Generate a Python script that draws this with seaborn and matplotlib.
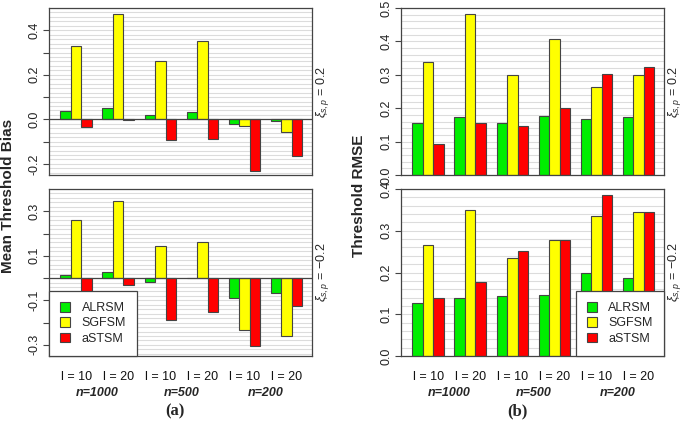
import numpy as np
import pandas as pd
import matplotlib
matplotlib.use("Agg")
import matplotlib.pyplot as plt
import seaborn as sns
from matplotlib.patches import Patch
from matplotlib import transforms

# Settings (x categories) and methods
settings = ["n1000_l10", "n1000_l20", "n500_l10", "n500_l20", "n200_l10", "n200_l20"]
tick_labels = ["l = 10", "l = 20", "l = 10", "l = 20", "l = 10", "l = 20"]
group_labels = ["n=1000", "n=500", "n=200"]
methods = ["ALRSM", "SGFSM", "aSTSM"]
colors = ["#00EE00", "#FFFF00", "#FF0000"]

# (a) Mean threshold bias
bias_pos_alrsm = [0.038, 0.050, 0.018, 0.032, -0.023, -0.009]
bias_pos_sgfsm = [0.330, 0.474, 0.262, 0.350, -0.032, -0.059]
bias_pos_astsm = [-0.033, -0.004, -0.095, -0.090, -0.233, -0.165]

bias_neg_alrsm = [0.013, 0.028, -0.016, 0.001, -0.088, -0.067]
bias_neg_sgfsm = [0.261, 0.346, 0.142, 0.164, -0.233, -0.260]
bias_neg_astsm = [-0.079, -0.030, -0.187, -0.152, -0.307, -0.125]

# (b) Threshold RMSE
rmse_pos_alrsm = [0.156, 0.175, 0.155, 0.178, 0.168, 0.175]
rmse_pos_sgfsm = [0.337, 0.482, 0.299, 0.407, 0.262, 0.299]
rmse_pos_astsm = [0.093, 0.155, 0.148, 0.200, 0.302, 0.323]

rmse_neg_alrsm = [0.126, 0.138, 0.143, 0.145, 0.198, 0.186]
rmse_neg_sgfsm = [0.267, 0.350, 0.234, 0.278, 0.336, 0.346]
rmse_neg_astsm = [0.138, 0.178, 0.252, 0.279, 0.385, 0.346]


def make_df(a, s, r):
    rows = []
    for vals, m in zip([a, s, r], methods):
        for st, v in zip(settings, vals):
            rows.append({"setting": st, "method": m, "value": v})
    return pd.DataFrame(rows)


sns.set_theme(style="white")
plt.rcParams["font.family"] = ["Liberation Sans", "DejaVu Sans"]
plt.rcParams["mathtext.fontset"] = "custom"
plt.rcParams["mathtext.rm"] = "Liberation Sans"
plt.rcParams["mathtext.it"] = "Liberation Sans:italic"

W, H = 685, 422
fig = plt.figure(figsize=(W / 100, H / 100), dpi=100)


def px_axes(x0, y0, x1, y1):
    return fig.add_axes([x0 / W, 1 - y1 / H, (x1 - x0) / W, (y1 - y0) / H])


ax_lt = px_axes(49, 8, 312, 175)
ax_lb = px_axes(49, 189, 312, 356)
ax_rt = px_axes(401, 8, 664, 175)
ax_rb = px_axes(401, 189, 664, 356)

panels = [
    (ax_lt, make_df(bias_pos_alrsm, bias_pos_sgfsm, bias_pos_astsm), (-0.25, 0.5),
     np.round(np.arange(-0.2, 0.41, 0.1), 2), [-0.2, 0.0, 0.2, 0.4], True, r"$\xi_{s,p}$ = 0.2"),
    (ax_lb, make_df(bias_neg_alrsm, bias_neg_sgfsm, bias_neg_astsm), (-0.35, 0.4),
     np.round(np.arange(-0.3, 0.31, 0.1), 2), [-0.3, -0.1, 0.1, 0.3], True, r"$\xi_{s,p}$ = $-$0.2"),
    (ax_rt, make_df(rmse_pos_alrsm, rmse_pos_sgfsm, rmse_pos_astsm), (0.0, 0.5),
     np.round(np.arange(0.0, 0.51, 0.1), 2), list(np.round(np.arange(0.0, 0.51, 0.1), 2)), False, r"$\xi_{s,p}$ = 0.2"),
    (ax_rb, make_df(rmse_neg_alrsm, rmse_neg_sgfsm, rmse_neg_astsm), (0.0, 0.4),
     np.round(np.arange(0.0, 0.41, 0.1), 2), list(np.round(np.arange(0.0, 0.41, 0.1), 2)), False, r"$\xi_{s,p}$ = $-$0.2"),
]

for ax, df, ylim, ticks, labeled, zero_line, side_lab in panels:
    sns.barplot(data=df, x="setting", y="value", hue="method", palette=colors,
                saturation=1, width=0.75, gap=0, edgecolor="#444444", linewidth=0.8,
                legend=False, ax=ax, zorder=2)
    ax.set_xlim(-0.645, 5.605)
    ax.set_ylim(*ylim)
    # fine horizontal grid
    grid_vals = np.arange(np.ceil(ylim[0] / 0.02) * 0.02, ylim[1] + 1e-9, 0.02)
    for g in grid_vals:
        ax.axhline(g, color="#dcdcdc", linewidth=0.8, zorder=0)
    if zero_line:
        ax.axhline(0, color="#444444", linewidth=0.9, zorder=3)
    ax.set_yticks(ticks)
    ax.set_yticklabels([f"{t:.1f}" if any(abs(t - l) < 1e-9 for l in labeled) else "" for t in ticks],
                       rotation=90, va="center", fontsize=9, color="#222222")
    ax.tick_params(axis="y", length=4, width=0.8, color="#444444", pad=2, left=True)
    ax.set_xticks(range(6))
    if ax in (ax_lb, ax_rb):
        ax.set_xticklabels(tick_labels, fontsize=9, color="#111111")
        ax.tick_params(axis="x", length=0, pad=10.5)
        trans = transforms.blended_transform_factory(ax.transData, fig.transFigure)
        for i, gl in enumerate(group_labels):
            ax.text(2 * i + 0.5, 1 - 393 / H, gl, transform=trans, ha="center", va="center",
                    fontsize=9, fontweight="bold", fontstyle="italic")
    else:
        ax.set_xticklabels([])
        ax.tick_params(axis="x", length=0)
    ax.set_xlabel("")
    ax.set_ylabel("")
    for sp in ax.spines.values():
        sp.set_color("#444444")
        sp.set_linewidth(0.9)
    ax.text(1.04, 0.5, side_lab, transform=ax.transAxes, rotation=90,
            ha="center", va="center", fontsize=9)

# shared y labels
fig.text(8 / W, 1 - 196 / H, "Mean Threshold Bias", rotation=90, ha="center", va="center",
         fontsize=11, fontweight="bold")
fig.text(359 / W, 1 - 196 / H, "Threshold RMSE", rotation=90, ha="center", va="center",
         fontsize=11, fontweight="bold")

# legends
handles = [Patch(facecolor=c, edgecolor="#444444", linewidth=0.8, label=m) for c, m in zip(colors, methods)]
for ax, loc in [(ax_lb, "lower left"), (ax_rb, "lower right")]:
    leg = ax.legend(handles=handles, loc=loc, fontsize=9, frameon=True, fancybox=False,
                    borderaxespad=0, handlelength=0.8, handleheight=0.8, handletextpad=0.9,
                    labelspacing=0.25, borderpad=0.9)
    leg.get_frame().set_edgecolor("#444444")
    leg.get_frame().set_linewidth(0.9)
    leg.get_frame().set_alpha(1)
    leg.set_zorder(5)

# panel labels
fig.text(175 / W, 1 - 411 / H, "(a)", ha="center", va="center", fontsize=12,
         fontweight="bold", family="Liberation Serif")
fig.text(517 / W, 1 - 411 / H, "(b)", ha="center", va="center", fontsize=12,
         fontweight="bold", family="Liberation Serif")

fig.savefig("out.png", dpi=100)
